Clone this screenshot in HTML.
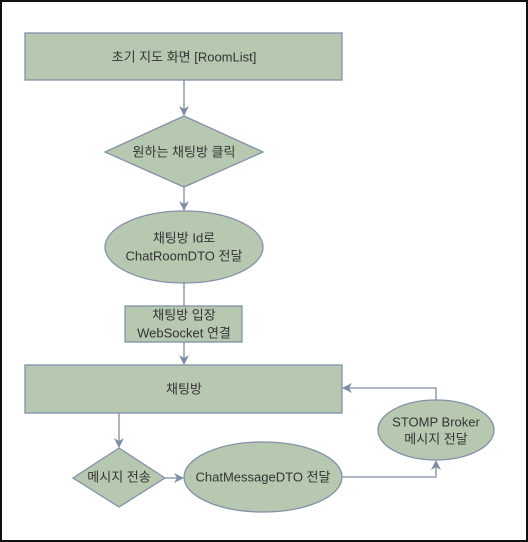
<!DOCTYPE html>
<html><head><meta charset="utf-8"><style>
html,body{margin:0;padding:0;background:#fff;}
svg{display:block;}
text{font-family:"Liberation Sans","Noto Sans CJK KR",sans-serif;font-size:13px;fill:#333;text-anchor:middle;dominant-baseline:central;}
</style></head><body>
<svg width="528" height="542" viewBox="0 0 528 542">
<defs><marker id="a" markerWidth="10" markerHeight="10" refX="9" refY="5" orient="auto" markerUnits="userSpaceOnUse"><path d="M0,0 L10,5 L0,10 L3,5 z" fill="#7f8ca6"/></marker></defs>
<rect x="1" y="1" width="526" height="540" fill="#fff" stroke="#111" stroke-width="2"/>
<g fill="#b6c9b0" stroke="#8290aa" stroke-width="1.3">
<rect x="25" y="33" width="317" height="47"/>
<polygon points="184,116 263,152 184,187 105,152"/>
<ellipse cx="184" cy="247" rx="79" ry="36"/>
<rect x="125" y="306" width="117" height="36"/>
<rect x="25" y="365" width="317" height="48"/>
<polygon points="119,448 165,478 119,507 73,478"/>
<ellipse cx="263" cy="477" rx="79" ry="35"/>
<ellipse cx="436" cy="430" rx="58" ry="30"/>
</g>
<g fill="none" stroke="#7f8ca6" stroke-width="1.3">
<line x1="184" y1="80" x2="184" y2="115" marker-end="url(#a)"/>
<line x1="184" y1="187" x2="184" y2="210" marker-end="url(#a)"/>
<line x1="184" y1="283" x2="184" y2="306"/>
<line x1="184" y1="342" x2="184" y2="364" marker-end="url(#a)"/>
<line x1="119" y1="413" x2="119" y2="447" marker-end="url(#a)"/>
<line x1="165" y1="478" x2="183" y2="478" marker-end="url(#a)"/>
<polyline points="342,477 436,477 436,461" marker-end="url(#a)"/>
<polyline points="436,400 436,388 343,388" marker-end="url(#a)"/>
</g>
<text x="184" y="57">초기 지도 화면 [RoomList]</text>
<text x="184" y="152">원하는 채팅방 클릭</text>
<text x="184" y="238">채팅방 Id로</text>
<text x="184" y="256">ChatRoomDTO 전달</text>
<text x="184" y="315">채팅방 입장</text>
<text x="184" y="333">WebSocket 연결</text>
<text x="184" y="389">채팅방</text>
<text x="119" y="477">메시지 전송</text>
<text x="263" y="477">ChatMessageDTO 전달</text>
<text x="436" y="422">STOMP Broker</text>
<text x="436" y="439">메시지 전달</text>
</svg>
</body></html>
